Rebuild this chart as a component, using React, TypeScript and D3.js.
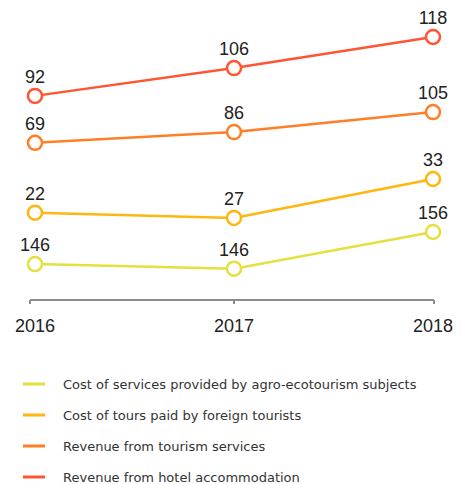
import React from "react";
import * as d3 from "d3";

const years = ["2016", "2017", "2018"];
const seriesNames = [
  "Cost of services provided by agro-ecotourism subjects",
  "Cost of tours paid by foreign tourists",
  "Revenue from tourism services",
  "Revenue from hotel accommodation",
];
const seriesColors = ["#e5e03f", "#ffb60f", "#ff7f27", "#ff5533"];
// printed values
const agroLabels = [146, 146, 156];
const toursLabels = [22, 27, 33];
const servicesLabels = [69, 86, 105];
const hotelLabels = [92, 106, 118];
// plotted index level (relative position in the original figure)
const agroLevel = [13.3, 11.6, 25.2];
const toursLevel = [32.3, 30.4, 44.8];
const servicesLevel = [58.2, 62.2, 69.6];
const hotelLevel = [75.6, 85.9, 97.4];

const FONT = "'DejaVu Sans', sans-serif";
const NUMFONT = "'Liberation Sans', Arial, sans-serif";

export default function App() {
  const W = 464, H = 484;
  const x = d3.scalePoint<string>().domain(years).range([35, 433]);
  const y = d3.scaleLinear().domain([0, 100]).range([300, 30]);
  const series = [
    { name: seriesNames[0], color: seriesColors[0], labels: agroLabels, level: agroLevel },
    { name: seriesNames[1], color: seriesColors[1], labels: toursLabels, level: toursLevel },
    { name: seriesNames[2], color: seriesColors[2], labels: servicesLabels, level: servicesLevel },
    { name: seriesNames[3], color: seriesColors[3], labels: hotelLabels, level: hotelLevel },
  ];
  const line = d3.line<number>().x((_, i) => x(years[i])!).y((d) => y(d));
  const axisY = y(0);
  const axisX0 = 30, axisX1 = 434;
  return (
    <svg width={W} height={H} style={{ position: "absolute", left: 0, top: 0, background: "#fff" }}>
      <line x1={axisX0} x2={axisX1} y1={axisY} y2={axisY} stroke="#8c8c8c" strokeWidth={2} />
      {[axisX0, x(years[1])!, axisX1].map((tx, i) => (
        <line key={i} x1={tx} x2={tx} y1={axisY} y2={axisY + 4} stroke="#8c8c8c" strokeWidth={2} />
      ))}
      {years.map((yr) => (
        <text key={yr} x={x(yr)} y={axisY + 32} textAnchor="middle" fontFamily={NUMFONT} fontSize={18} fill="#222">
          {yr}
        </text>
      ))}
      {series.map((s) => (
        <g key={s.name}>
          <path d={line(s.level) || ""} fill="none" stroke={s.color} strokeWidth={2.5} />
          {s.level.map((v, i) => (
            <g key={i}>
              <circle cx={x(years[i])} cy={y(v)} r={7} fill="#fff" stroke={s.color} strokeWidth={2.5} />
              <text x={x(years[i])} y={y(v) - 13} textAnchor="middle" fontFamily={NUMFONT} fontSize={18} fill="#222">
                {s.labels[i]}
              </text>
            </g>
          ))}
        </g>
      ))}
      {series.map((s, i) => (
        <g key={"lg" + i} transform={`translate(0, ${384 + i * 31})`}>
          <line x1={23} x2={45} y1={0} y2={0} stroke={s.color} strokeWidth={3} />
          <text x={63} y={5} fontFamily={FONT} fontSize={13} fill="#333">
            {s.name}
          </text>
        </g>
      ))}
    </svg>
  );
}
